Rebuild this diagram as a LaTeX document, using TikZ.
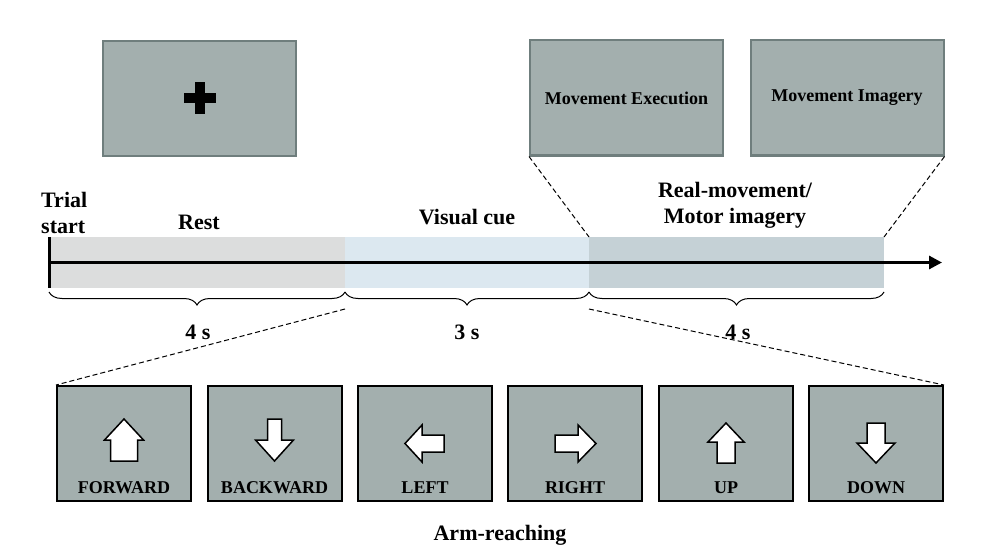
\documentclass[tikz,border=0pt]{standalone}
\usepackage{fontspec}
\setmainfont{Liberation Serif}
\usetikzlibrary{decorations.pathreplacing,arrows.meta}
\definecolor{boxgray}{HTML}{A3AFAE}
\definecolor{boxedge}{HTML}{6F7E7D}
\definecolor{restc}{HTML}{DCDDDD}
\definecolor{cuec}{HTML}{DCE8F0}
\definecolor{motorc}{HTML}{C5D1D6}
\begin{document}
\begin{tikzpicture}[x=1pt,y=-1pt,
 topbox/.style={draw=boxedge,line width=2pt,fill=boxgray,minimum width=193pt,minimum height=115pt,inner sep=0pt,font=\fontsize{18}{21}\selectfont\bfseries},
 cuebox/.style={draw=black,line width=2pt,fill=boxgray,minimum width=134pt,minimum height=115pt,inner sep=0pt},
 band/.style={draw=none,inner sep=0pt,outer sep=0pt,minimum height=51pt},
 lbl/.style={font=\fontsize{22}{26}\selectfont\bfseries,inner sep=0pt,align=center},
 cuelbl/.style={font=\fontsize{18}{21}\selectfont\bfseries,inner sep=0pt},
 zoomline/.style={line width=1pt,dash pattern=on 5pt off 3pt},
 blockarrow/.style={draw=black,fill=white,line width=1.5pt,line join=miter},
 tbrace/.style={decorate,decoration={brace,mirror,amplitude=13pt},line width=1pt}
]
\useasboundingbox (0,0) rectangle (985,559);

% top boxes
\node[topbox] (fix) at (199.5,98.5) {};
\node[topbox] (me) at (626.5,98) {Movement Execution};
\node[topbox] (mi) at (847,98) {Movement Imagery};
\fill[black] (fix.center) ++(-16,-5) rectangle ++(32,10);
\fill[black] (fix.center) ++(-5,-16) rectangle ++(10,32);

% bands
\node[band,fill=restc,minimum width=296pt] (rest) at (197,262.5) {};
\node[band,fill=cuec,minimum width=244pt] (cue) at (467,262.5) {};
\node[band,fill=motorc,minimum width=295pt] (motor) at (736.5,262.5) {};

% timeline
\coordinate (tend) at (942,262.5);
\draw[line width=3pt,-{Triangle[length=13pt,width=13pt]}] (rest.west) -- (tend);
\draw[line width=3pt] (rest.north west) -- (rest.south west);

% braces
\draw[tbrace] ([yshift=-4pt]rest.south west) -- ([yshift=-4pt]rest.south east);
\draw[tbrace] ([yshift=-4pt]cue.south west) -- ([yshift=-4pt]cue.south east);
\draw[tbrace] ([yshift=-4pt]motor.south west) -- ([yshift=-4pt]motor.south east);

% labels
\node[lbl,align=left,anchor=west] (trial) at (41,213) {Trial\\start};
\node[lbl] (restl) at (199,222) {Rest};
\node[lbl] (cuel) at (467,217) {Visual cue};
\node[lbl] (motl) at (735,205) {Real-movement/\\Motor imagery};
\node[lbl] (d1) at (198,332) {4 s};
\node[lbl] (d2) at (467,332) {3 s};
\node[lbl] (d3) at (738,332) {4 s};

% bottom boxes
\node[cuebox] (b1) at (124,443.5) {};
\node[cuebox] (b2) at (274.5,443.5) {};
\node[cuebox] (b3) at (425,443.5) {};
\node[cuebox] (b4) at (575,443.5) {};
\node[cuebox] (b5) at (726,443.5) {};
\node[cuebox] (b6) at (876,443.5) {};

\node[cuelbl] at ([yshift=14pt]b1.south) {FORWARD};
\node[cuelbl] at ([yshift=14pt]b2.south) {BACKWARD};
\node[cuelbl] at ([yshift=14pt]b3.south) {LEFT};
\node[cuelbl] at ([yshift=14pt]b4.south) {RIGHT};
\node[cuelbl] at ([yshift=14pt]b5.south) {UP};
\node[cuelbl] at ([yshift=14pt]b6.south) {DOWN};

% arrows
\draw[blockarrow,shift={(b1.center)}] (0,-24.5) -- (19.5,-3.5) -- (13.5,-3.5) -- (13.5,17.5) -- (-13.5,17.5) -- (-13.5,-3.5) -- (-19.5,-3.5) -- cycle;
\draw[blockarrow,shift={(b2.center)}] (-7,-24.5) -- (7,-24.5) -- (7,-3.5) -- (19,-3.5) -- (0,17.5) -- (-19,-3.5) -- (-7,-3.5) -- cycle;
\draw[blockarrow,shift={(b3.center)}] (-20,0) -- (-3,-18.5) -- (-3,-8.5) -- (19,-8.5) -- (19,8.5) -- (-3,8.5) -- (-3,18.5) -- cycle;
\draw[blockarrow,shift={(b4.center)}] (21,0) -- (3,-18.5) -- (3,-8.5) -- (-20,-8.5) -- (-20,8.5) -- (3,8.5) -- (3,18.5) -- cycle;
\draw[blockarrow,shift={(b5.center)}] (0,-20.5) -- (18,-1.5) -- (9,-1.5) -- (9,19.5) -- (-9,19.5) -- (-9,-1.5) -- (-18,-1.5) -- cycle;
\draw[blockarrow,shift={(b6.center)}] (-9,-20.5) -- (9,-20.5) -- (9,-0.5) -- (19,-0.5) -- (0,19.5) -- (-19,-0.5) -- (-9,-0.5) -- cycle;

\node[lbl] (arm) at (500,535) {Arm-reaching};

% zoom lines
\draw[zoomline] (me.south west) -- (motor.north west);
\draw[zoomline] (mi.south east) -- (motor.north east);
\draw[zoomline] ([yshift=-21pt]rest.south east) -- (b1.north west);
\draw[zoomline] ([yshift=-21pt]motor.south west) -- (b6.north east);
\end{tikzpicture}
\end{document}
